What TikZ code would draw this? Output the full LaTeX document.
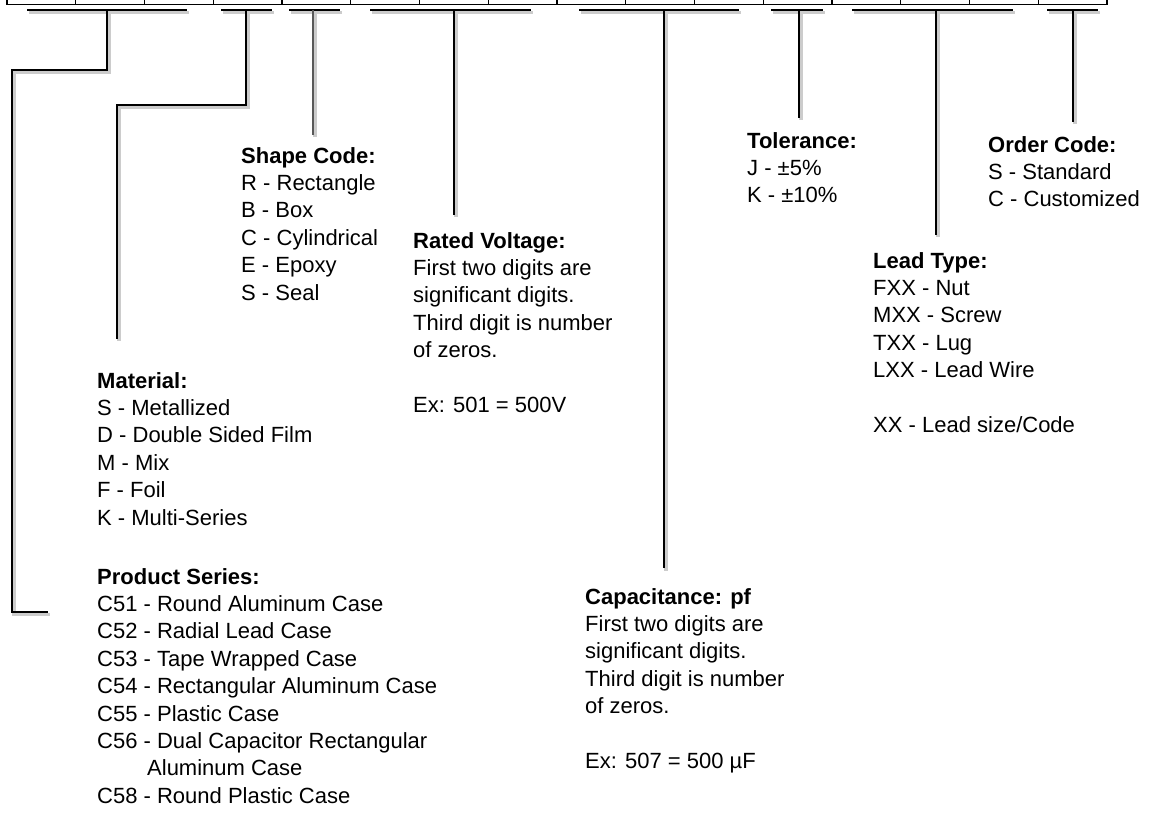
\documentclass[tikz,border=0pt]{standalone}
\usepackage{fontspec}
\setmainfont{Liberation Sans}
\usetikzlibrary{positioning}

\begin{document}
\begin{tikzpicture}[x=1pt, y=-1pt,
     T/.style = {anchor=north west, inner sep=0pt, align=left,
                 font=\fontsize{22}{27.4}\selectfont},
   box/.style = {draw, line width=1.1pt},
   bar/.style = {line width=2.4pt,
                 preaction={draw=black!20, line width=3.4pt,
                            transform canvas={shift={(2pt,-2.5pt)}}}}
                        ]
\useasboundingbox (0,0) rectangle (1171,813);
\clip (0,0) rectangle (1171,813);

% code cells
\foreach \i in {0,...,15}
  \draw[box] ({7+68.75*\i},-6) rectangle ++(68.75,10.5);

% brackets under the cells
\foreach \nm/\a/\b/\s in {ps/27/187/107, mt/221/272/246, sc/289/340/313,
                          rv/370/531/454, cp/579/739/664, tl/771/823/799,
                          lt/852/1013/936, oc/1047/1098/1073}{
  \coordinate (\nm) at (\s,10);
  \draw[bar] (\a,10) -- (\b,10);
}

% text blocks
\node[T] (series) at (97,568) {\textbf{Product Series:}\\
      C51 - Round Aluminum Case\\
      C52 - Radial Lead Case\\
      C53 - Tape Wrapped Case\\
      C54 - Rectangular Aluminum Case\\
      C55 - Plastic Case\\
      C56 - Dual Capacitor Rectangular\\
      \hspace*{50pt}Aluminum Case\\
      C58 - Round Plastic Case};
\node[T] (material) at (97,372) {\textbf{Material:}\\
      S - Metallized\\
      D - Double Sided Film\\
      M - Mix\\
      F - Foil\\
      K - Multi-Series};
\node[T] (shape) at (241,147) {\textbf{Shape Code:}\\
      R - Rectangle\\
      B - Box\\
      C - Cylindrical\\
      E - Epoxy\\
      S - Seal};
\node[T] (voltage) at (413,232) {\textbf{Rated Voltage:}\\
      First two digits are\\
      significant digits.\\
      Third digit is number\\
      of zeros.\\[27.4pt]
      Ex: 501 = 500V};
\node[T] (capac) at (585,588) {\textbf{Capacitance: pf}\\
      First two digits are\\
      significant digits.\\
      Third digit is number\\
      of zeros.\\[27.4pt]
      Ex: 507 = 500 µF};
\node[T] (toler) at (747,132) {\textbf{Tolerance:}\\
      J - ±5\%\\
      K - ±10\%};
\node[T] (lead) at (873,252) {\textbf{Lead Type:}\\
      FXX - Nut\\
      MXX - Screw\\
      TXX - Lug\\
      LXX - Lead Wire\\[27.4pt]
      XX - Lead size/Code};
\node[T] (order) at (988,136) {\textbf{Order Code:}\\
      S - Standard\\
      C - Customized};

% leaders
\coordinate (ps-end) at (48,612);
\coordinate (mt-end) at (117,339);
\draw[bar] (ps) -- ++(0,60) -| (12,612) -- (ps-end);
\draw[bar] (mt) -- ++(0,95) -| (mt-end);
\draw[bar, black!65] (sc) -- ([yshift=12pt]sc |- shape.north);
\draw[bar] (rv) -- ([yshift=17pt]rv |- voltage.north);
\draw[bar] (cp) -- ([yshift=20pt]cp |- capac.north);
\draw[bar] (tl) -- ([yshift=14pt]tl |- toler.north);
\draw[bar] (lt) -- ([yshift=17pt]lt |- lead.north);
\draw[bar] (oc) -- ([yshift=14pt]oc |- order.north);
\end{tikzpicture}
\end{document}
